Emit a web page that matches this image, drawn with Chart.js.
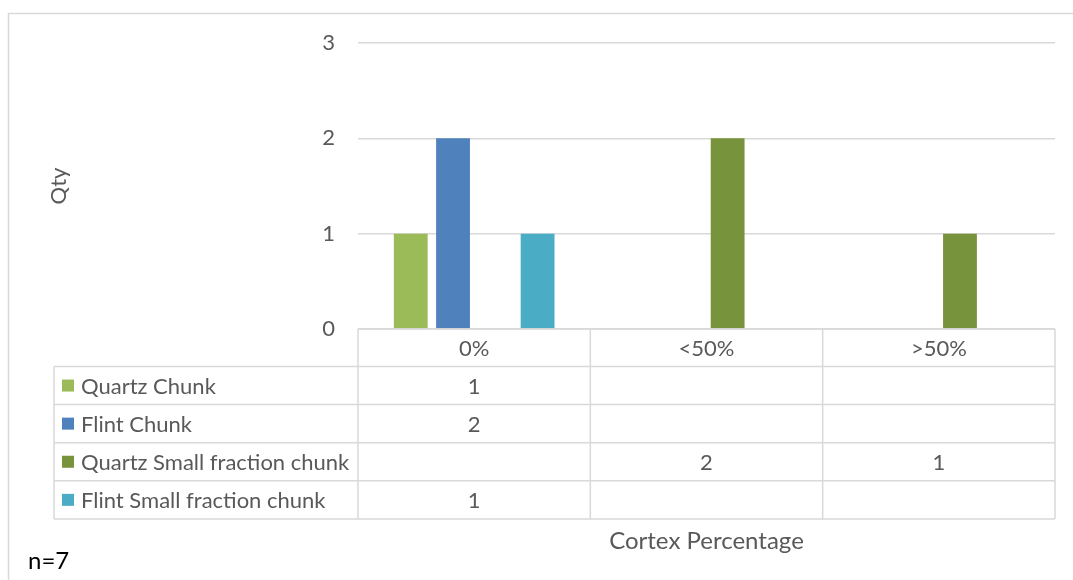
<!DOCTYPE html>
<html>
<head>
<meta charset="utf-8">
<script src="https://cdn.jsdelivr.net/npm/chart.js@4"></script>
<style>
  html, body { margin: 0; padding: 0; background: #fff; }
  #wrap { position: absolute; left: 0; top: 0; width: 1073px; height: 580px; }
</style>
</head>
<body>
<div id="wrap"><canvas id="chartCortex" width="1073" height="580"></canvas></div>
<script>
const categories = ["0%", "<50%", ">50%"];
const seriesNames = [
  "Quartz Chunk",
  "Flint Chunk",
  "Quartz Small fraction chunk",
  "Flint Small fraction chunk",
];
const quartzChunk = [1, null, null];
const flintChunk = [2, null, null];
const quartzSmall = [null, 2, 1];
const flintSmall = [1, null, null];
const yTicks = [0, 1, 2, 3];
const seriesColors = ["#9BBB59", "#4F81BD", "#77933C", "#4BACC6"];

const textColor = "#595959";
const lineColor = "#d9d9d9";
const fontFamily = "Lato, 'Open Sans', sans-serif";

// Excel-style data table under the plot, drawn against the x scale
const dataTablePlugin = {
  id: "dataTable",
  beforeDraw(chart) {
    const ctx = chart.ctx;
    ctx.save();
    ctx.strokeStyle = lineColor;
    ctx.lineWidth = 1.5;
    ctx.beginPath();
    ctx.moveTo(8.5, 600);
    ctx.lineTo(8.5, 13.5);
    ctx.lineTo(1073, 13.5);
    ctx.stroke();
    ctx.restore();
  },
  afterDraw(chart) {
    const ctx = chart.ctx;
    const area = chart.chartArea;
    const x = chart.scales.x;
    const headTop = area.bottom;
    const rowH = 38.1;
    const headBottom = headTop + 37.5;
    const tableLeft = 54;
    const tableBottom = headBottom + rowH * seriesNames.length;

    const bounds = [area.left];
    for (let i = 0; i < categories.length - 1; i++) {
      bounds.push((x.getPixelForValue(i) + x.getPixelForValue(i + 1)) / 2);
    }
    bounds.push(area.right);

    ctx.save();
    ctx.strokeStyle = lineColor;
    ctx.lineWidth = 1.5;
    ctx.beginPath();
    // header row
    ctx.moveTo(area.left, headTop);
    ctx.lineTo(area.right, headTop);
    bounds.forEach((b) => {
      ctx.moveTo(b, headTop);
      ctx.lineTo(b, tableBottom);
    });
    // data rows
    for (let r = 0; r <= seriesNames.length; r++) {
      const y = headBottom + r * rowH;
      ctx.moveTo(tableLeft, y);
      ctx.lineTo(area.right, y);
    }
    ctx.moveTo(tableLeft, headBottom);
    ctx.lineTo(tableLeft, tableBottom);
    ctx.stroke();

    ctx.fillStyle = textColor;
    ctx.font = "22px " + fontFamily;
    ctx.textBaseline = "middle";
    ctx.textAlign = "center";
    categories.forEach((c, i) => {
      ctx.fillText(c, x.getPixelForValue(i), (headTop + headBottom) / 2 + 1);
    });

    chart.data.datasets.forEach((ds, r) => {
      const cy = headBottom + r * rowH + rowH / 2 + 1;
      ctx.fillStyle = ds.backgroundColor;
      ctx.fillRect(62, cy - 7, 12, 12);
      ctx.fillStyle = textColor;
      ctx.textAlign = "left";
      ctx.fillText(ds.label, 81, cy);
      ctx.textAlign = "center";
      ds.data.forEach((v, i) => {
        if (v !== null) ctx.fillText(String(v), x.getPixelForValue(i), cy);
      });
    });

    ctx.font = "24px " + fontFamily;
    ctx.fillText("Cortex Percentage", (area.left + area.right) / 2, 541);

    ctx.fillStyle = "#000";
    ctx.textAlign = "left";
    ctx.fillText("n=7", 28, 561);
    ctx.restore();
  },
};

const ctx = document.getElementById("chartCortex").getContext("2d");
const myChart = new Chart(ctx, {
  type: "bar",
  data: {
    labels: categories,
    datasets: [quartzChunk, flintChunk, quartzSmall, flintSmall].map((d, i) => ({
      label: seriesNames[i],
      data: d,
      backgroundColor: seriesColors[i],
      categoryPercentage: 0.728,
      barPercentage: 0.8,
    })),
  },
  plugins: [dataTablePlugin],
  options: {
    responsive: false,
    animation: false,
    devicePixelRatio: 1,
    layout: {
      padding: { left: 40, right: 18, top: 43, bottom: 251 },
    },
    plugins: {
      legend: { display: false },
      tooltip: { enabled: false },
    },
    scales: {
      x: {
        display: false,
      },
      y: {
        min: 0,
        max: 3,
        afterFit(scale) {
          scale.width = 318;
        },
        afterBuildTicks(scale) {
          scale.ticks = yTicks.map((v) => ({ value: v }));
        },
        border: { display: false },
        grid: {
          color: lineColor,
          lineWidth: 1.5,
          drawTicks: false,
        },
        ticks: {
          padding: 23,
          color: textColor,
          font: { family: fontFamily, size: 22 },
        },
        title: {
          display: true,
          text: "Qty",
          color: textColor,
          font: { family: fontFamily, size: 22 },
          padding: { top: 6, bottom: 0 },
        },
      },
    },
  },
});
</script>
</body>
</html>
